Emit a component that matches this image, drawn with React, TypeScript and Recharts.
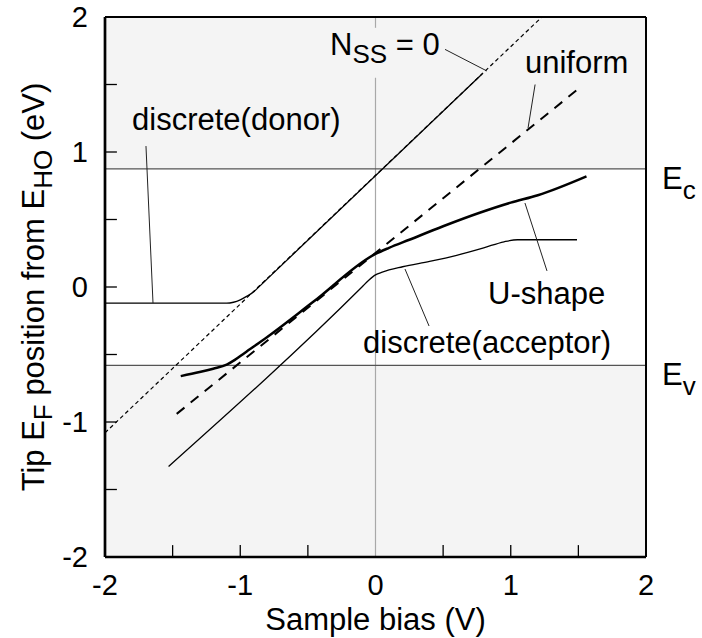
import React from "react";
import {
  LineChart,
  Line,
  XAxis,
  YAxis,
  ReferenceLine,
  ReferenceArea,
  ReferenceDot,
} from "recharts";

const FONT = "'Liberation Sans', Arial, Helvetica, sans-serif";
const TEXT_SIZE = 31;
const SUB_SIZE = 26;

// axis ticks
const xTicks = [-2, -1, 0, 1, 2];
const yTicks = [-2, -1, 0, 1, 2];
const xMinorTicks = [-1.5, -1, -0.5, 0.5, 1, 1.5];
const yMinorTicks = [-1.5, -1, -0.5, 0, 0.5, 1, 1.5];

// band edges (eV)
const E_C = 0.875;
const E_V = -0.58;

// curves: sample bias (V) -> tip EF position (eV)
const nssZero = [
  { x: -2, y: -1.08 },
  { x: 1.23, y: 2.0 },
];
const uniform = [
  { x: -1.47, y: -0.94 },
  { x: 1.49, y: 1.46 },
];
const discreteDonor = [
  { x: -2, y: -0.12 },
  { x: -1.1, y: -0.12 },
  { x: -1.05, y: -0.113 },
  { x: -1.0, y: -0.095 },
  { x: -0.95, y: -0.068 },
  { x: -0.9, y: -0.035 },
  { x: -0.85, y: 0.012 },
  { x: -0.8, y: 0.06 },
  { x: 0.79, y: 1.58 },
];
const uShape = [
  { x: -1.44, y: -0.66 },
  { x: -1.3, y: -0.63 },
  { x: -1.2, y: -0.605 },
  { x: -1.1, y: -0.575 },
  { x: -1.04, y: -0.54 },
  { x: -0.97, y: -0.49 },
  { x: -0.8, y: -0.37 },
  { x: -0.46, y: -0.11 },
  { x: 0, y: 0.245 },
  { x: 0.1, y: 0.29 },
  { x: 0.25, y: 0.35 },
  { x: 0.5, y: 0.45 },
  { x: 0.77, y: 0.55 },
  { x: 1.0, y: 0.625 },
  { x: 1.2, y: 0.68 },
  { x: 1.56, y: 0.82 },
];
const discreteAcceptor = [
  { x: -1.53, y: -1.33 },
  { x: -0.1, y: 0.0 },
  { x: -0.05, y: 0.05 },
  { x: 0, y: 0.09 },
  { x: 0.05, y: 0.11 },
  { x: 0.2, y: 0.15 },
  { x: 0.4, y: 0.19 },
  { x: 0.6, y: 0.235 },
  { x: 0.8, y: 0.29 },
  { x: 0.95, y: 0.335 },
  { x: 1.05, y: 0.35 },
  { x: 1.49, y: 0.35 },
];

// annotation text anchors (start of baseline) and leader lines
const annotations = [
  { key: "nss", x: -0.336, y: 1.72 },
  { key: "uniform", x: 1.105, y: 1.585 },
  { key: "donor", x: -1.8, y: 1.163 },
  { key: "ushape", x: 0.832, y: -0.126 },
  { key: "acceptor", x: -0.092, y: -0.489 },
];
const leaders = [
  [{ x: 0.514, y: 1.76 }, { x: 0.824, y: 1.6 }],
  [{ x: 1.18, y: 1.5 }, { x: 1.128, y: 1.178 }],
  [{ x: -1.697, y: 1.044 }, { x: -1.645, y: -0.119 }],
  [{ x: 1.268, y: 0.119 }, { x: 1.105, y: 0.622 }],
  [{ x: 0.396, y: -0.289 }, { x: 0.218, y: 0.133 }],
];

const TICK_LEN = 0.088;

function annotationText(key: string) {
  switch (key) {
    case "nss":
      return (
        <>
          <tspan>N</tspan>
          <tspan fontSize={SUB_SIZE} dy={8}>SS</tspan>
          <tspan dy={-8}> = 0</tspan>
        </>
      );
    case "uniform":
      return "uniform";
    case "donor":
      return "discrete(donor)";
    case "ushape":
      return "U-shape";
    default:
      return "discrete(acceptor)";
  }
}

const makeAnnotation = (key: string) => (props: any) => {
  const { viewBox } = props;
  return (
    <text
      x={viewBox.x + viewBox.width / 2}
      y={viewBox.y + viewBox.height / 2}
      fontSize={TEXT_SIZE}
      fontFamily={FONT}
      fill="#000"
      textAnchor="start"
    >
      {annotationText(key)}
    </text>
  );
};

const bandLabel = (sub: string) => (props: any) => {
  const { viewBox } = props;
  return (
    <text
      x={viewBox.x + viewBox.width + 16}
      y={viewBox.y + 20}
      fontSize={TEXT_SIZE}
      fontFamily={FONT}
      fill="#000"
    >
      <tspan>E</tspan>
      <tspan fontSize={SUB_SIZE} dy={10}>{sub}</tspan>
    </text>
  );
};

const YLabel = (props: any) => {
  const { viewBox } = props;
  const cx = 44;
  const cy = viewBox.y + viewBox.height / 2;
  return (
    <text
      x={cx}
      y={cy}
      transform={`rotate(-90, ${cx}, ${cy})`}
      textAnchor="middle"
      fontSize={TEXT_SIZE}
      fontFamily={FONT}
      fill="#000"
    >
      <tspan>Tip E</tspan>
      <tspan fontSize={SUB_SIZE} dy={8}>F</tspan>
      <tspan dy={-8}> position from E</tspan>
      <tspan fontSize={SUB_SIZE} dy={8}>HO</tspan>
      <tspan dy={-8}> (eV)</tspan>
    </text>
  );
};

const XLabel = (props: any) => {
  const { viewBox } = props;
  return (
    <text
      x={viewBox.x + viewBox.width / 2}
      y={viewBox.y + 73}
      textAnchor="middle"
      fontSize={TEXT_SIZE}
      fontFamily={FONT}
      fill="#000"
    >
      Sample bias (V)
    </text>
  );
};

export default function App() {
  return (
    <div style={{ position: "absolute", left: 0, top: 0, width: 702, height: 638, background: "#fff" }}>
      <LineChart width={702} height={638} margin={{ top: 17, right: 56, left: 0, bottom: 0 }}>
        <XAxis
          type="number"
          dataKey="x"
          domain={[-2, 2]}
          ticks={xTicks}
          allowDataOverflow
          tickLine={false}
          tickSize={0}
          tickMargin={17}
          height={81}
          axisLine={{ stroke: "#000", strokeWidth: 2.7 }}
          tick={{ fontSize: 29, fill: "#000", fontFamily: FONT }}
          label={{ content: XLabel }}
        />
        <YAxis
          type="number"
          dataKey="y"
          domain={[-2, 2]}
          ticks={yTicks}
          allowDataOverflow
          tickLine={false}
          tickSize={0}
          tickMargin={17}
          width={105}
          axisLine={{ stroke: "#000", strokeWidth: 2.7 }}
          tick={{ fontSize: 29, fill: "#000", fontFamily: FONT }}
          label={{ content: YLabel }}
        />

        {/* shaded bands outside the gap */}
        <ReferenceArea y1={E_C} y2={2} fill="#f4f4f4" fillOpacity={1} stroke="none" />
        <ReferenceArea y1={-2} y2={E_V} fill="#f4f4f4" fillOpacity={1} stroke="none" />

        {/* zero-bias guide, broken behind the N_SS label */}
        <ReferenceLine segment={[{ x: 0, y: -2 }, { x: 0, y: 1.55 }]} stroke="#a8a8a8" strokeWidth={1.2} />
        <ReferenceLine segment={[{ x: 0, y: 1.92 }, { x: 0, y: 2 }]} stroke="#a8a8a8" strokeWidth={1.2} />

        {/* band edges */}
        <ReferenceLine y={E_C} stroke="#555" strokeWidth={1.2} label={{ content: bandLabel("c") }} />
        <ReferenceLine y={E_V} stroke="#555" strokeWidth={1.2} label={{ content: bandLabel("v") }} />

        {/* inward ticks */}
        {xMinorTicks.map((t) => (
          <ReferenceLine key={`xt${t}`} segment={[{ x: t, y: -2 }, { x: t, y: -2 + TICK_LEN }]} stroke="#000" strokeWidth={1.3} />
        ))}
        {yMinorTicks.map((t) => (
          <ReferenceLine key={`yt${t}`} segment={[{ x: -2, y: t }, { x: -2 + TICK_LEN, y: t }]} stroke="#000" strokeWidth={1.3} />
        ))}

        <Line data={nssZero} dataKey="y" type="linear" stroke="#000" strokeWidth={1.2} strokeDasharray="4 3" dot={false} isAnimationActive={false} />
        <Line data={uniform} dataKey="y" type="linear" stroke="#000" strokeWidth={2} strokeDasharray="10 8" dot={false} isAnimationActive={false} />
        <Line data={discreteDonor} dataKey="y" type="monotone" stroke="#000" strokeWidth={1.3} dot={false} isAnimationActive={false} />
        <Line data={uShape} dataKey="y" type="monotone" stroke="#000" strokeWidth={2.5} dot={false} isAnimationActive={false} />
        <Line data={discreteAcceptor} dataKey="y" type="monotone" stroke="#000" strokeWidth={1.3} dot={false} isAnimationActive={false} />

        {/* leader lines */}
        {leaders.map((seg, i) => (
          <ReferenceLine key={`ld${i}`} segment={seg} stroke="#222" strokeWidth={1} />
        ))}

        {/* annotation texts */}
        {annotations.map((a) => (
          <ReferenceDot
            key={a.key}
            x={a.x}
            y={a.y}
            r={0}
            fill="none"
            stroke="none"
            label={{ content: makeAnnotation(a.key) }}
          />
        ))}

        {/* frame top / right */}
        <ReferenceLine y={2} stroke="#000" strokeWidth={2} />
        <ReferenceLine x={2} stroke="#000" strokeWidth={2} />
      </LineChart>
    </div>
  );
}
